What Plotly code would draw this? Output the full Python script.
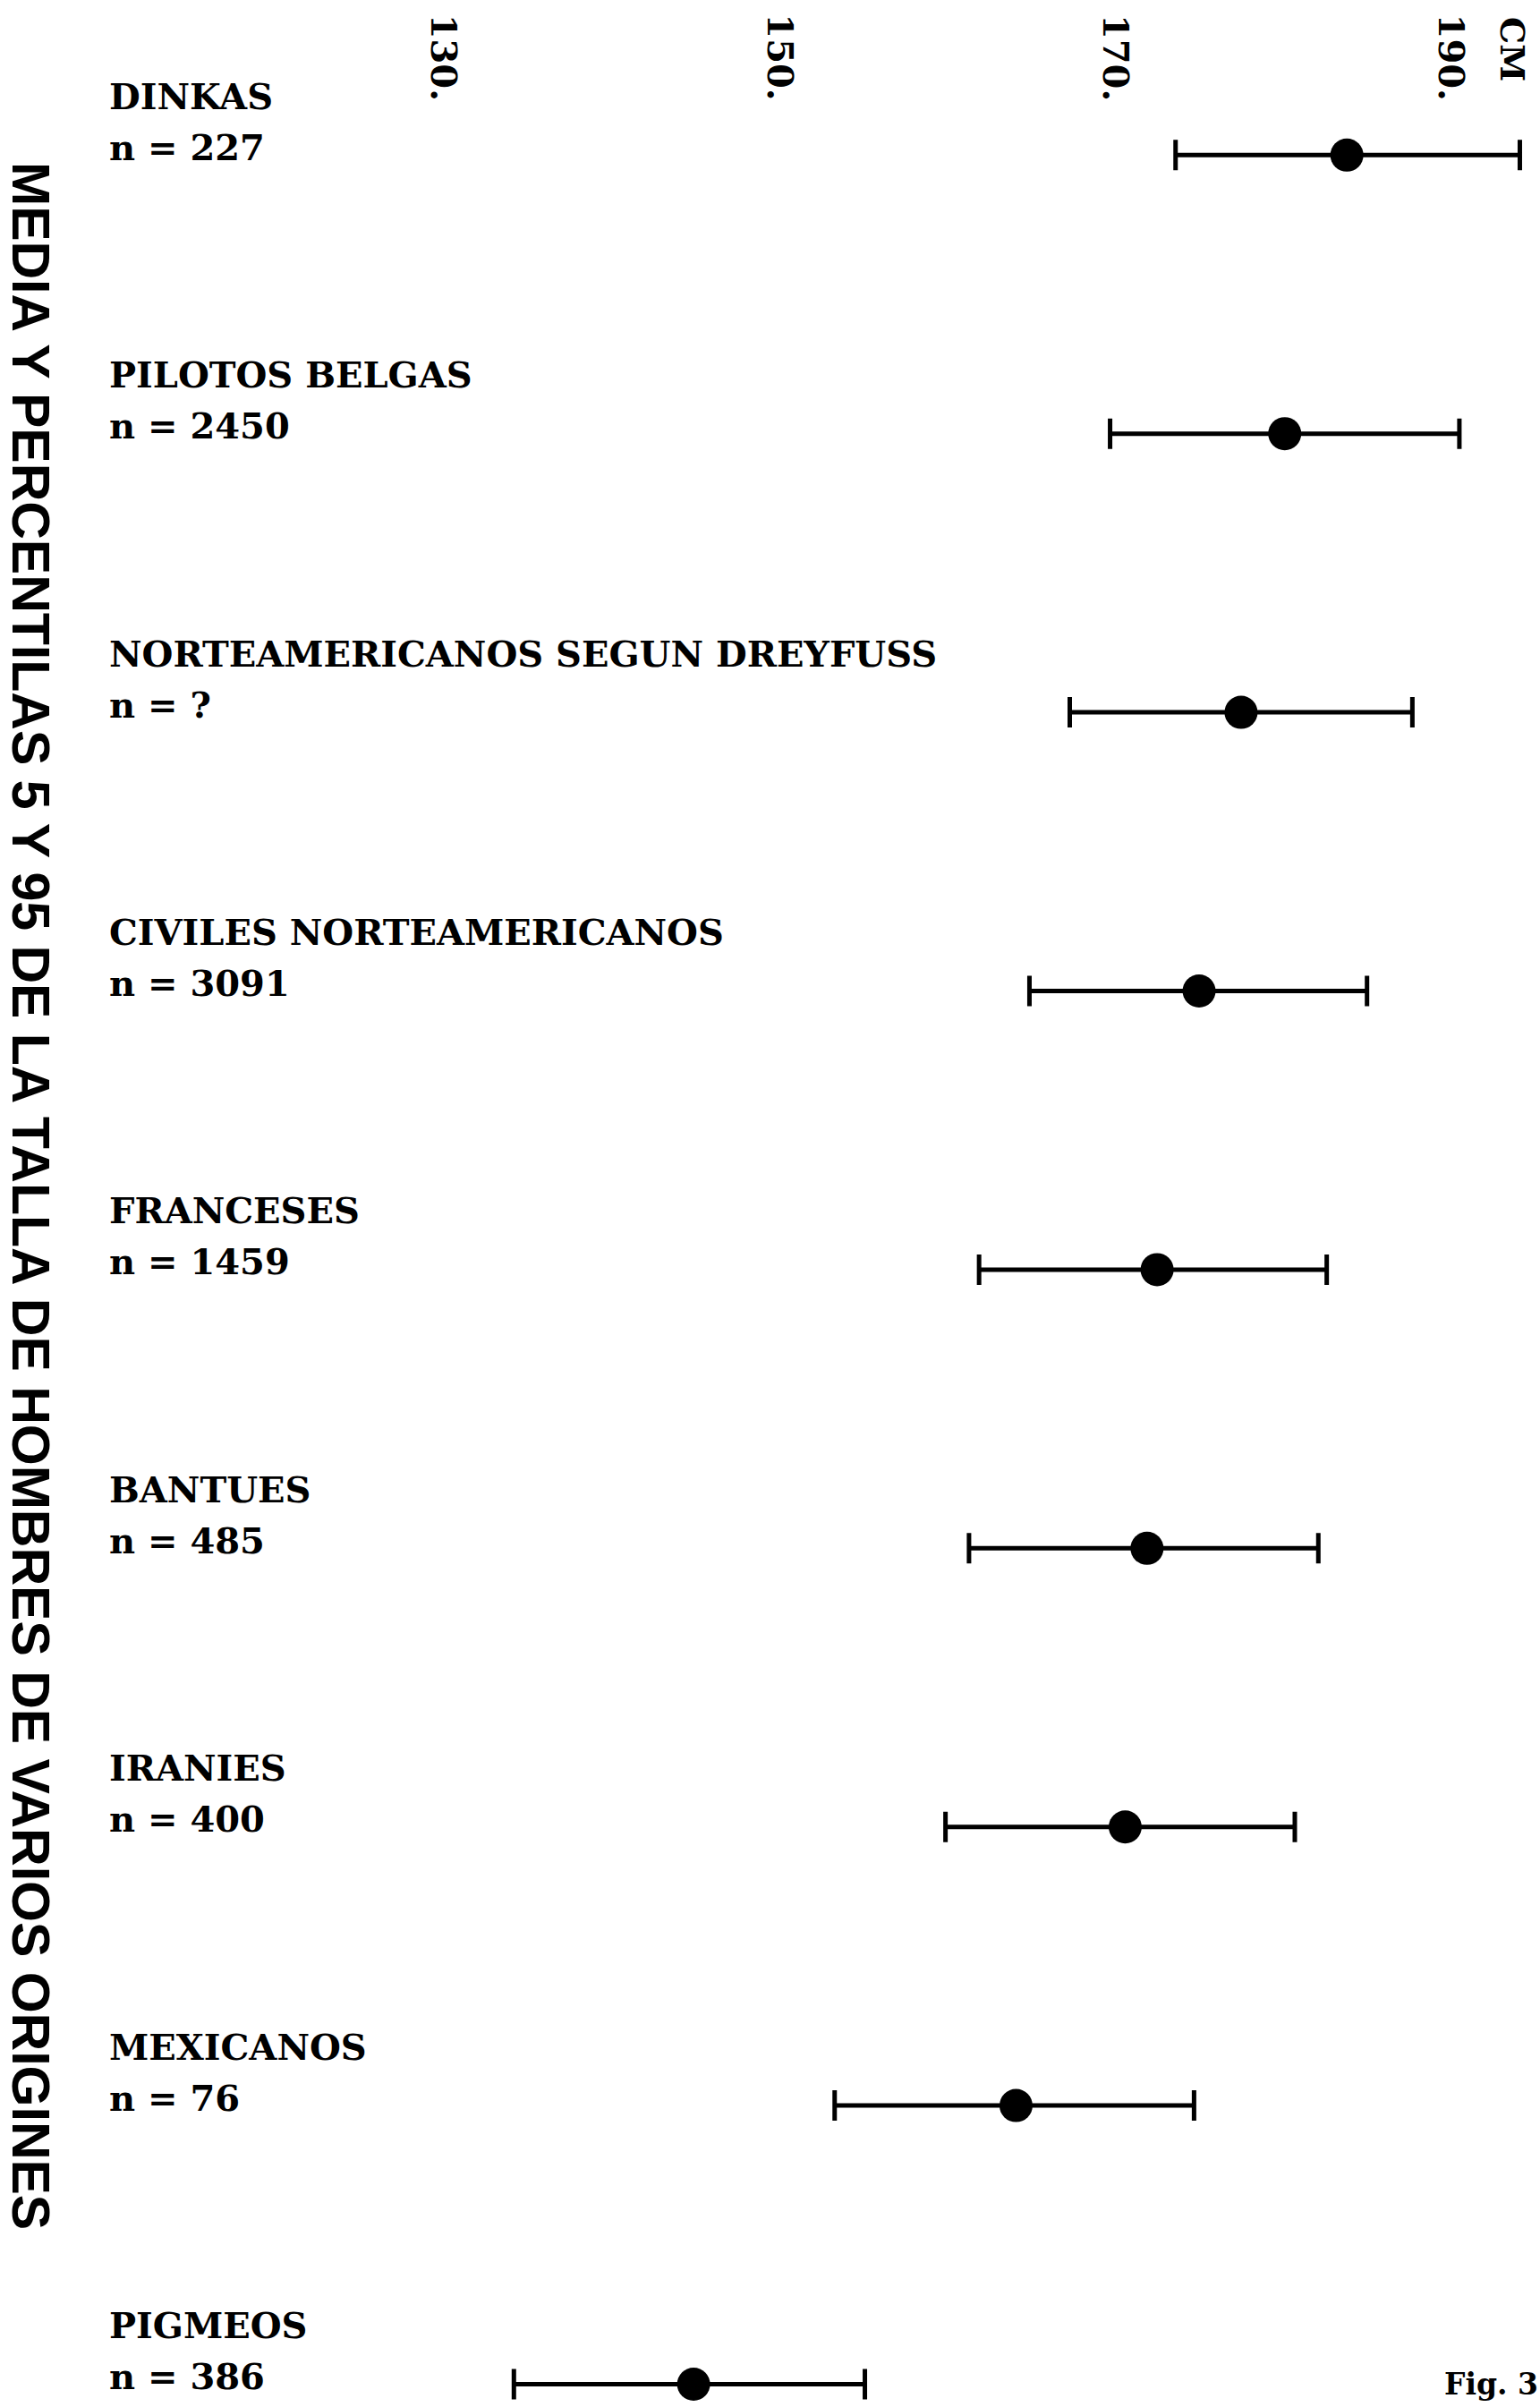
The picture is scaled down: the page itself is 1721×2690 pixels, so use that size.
import plotly.graph_objects as go

# ---- data ----
groups = ["DINKAS", "PILOTOS BELGAS", "NORTEAMERICANOS SEGUN DREYFUSS",
          "CIVILES NORTEAMERICANOS", "FRANCESES", "BANTUES", "IRANIES",
          "MEXICANOS", "PIGMEOS"]
n_values = ["227", "2450", "?", "3091", "1459", "485", "400", "76", "386"]
p5 = [173.5, 169.6, 167.2, 164.8, 161.8, 161.2, 159.8, 153.2, 134.1]
mean = [183.7, 180.0, 177.4, 174.9, 172.4, 171.8, 170.5, 164.0, 144.8]
p95 = [194.0, 190.4, 187.6, 184.9, 182.5, 182.0, 180.6, 174.6, 155.0]
tick_vals = [130, 150, 170, 190]
tick_text = ["130.", "150.", "170.", "190."]
unit_label = "CM"
title_text = "MEDIA Y PERCENTILAS 5 Y 95 DE LA TALLA DE HOMBRES DE VARIOS ORIGINES"
fig_label = "Fig. 3"

W, H = 1721, 2690
serif = "DejaVu Serif"
sans = "Liberation Sans"

err_plus = [b - m for b, m in zip(p95, mean)]
err_minus = [m - a for a, m in zip(p5, mean)]

fig = go.Figure()
fig.add_trace(go.Scatter(
    x=mean, y=groups, mode="markers",
    marker=dict(size=37, color="black", line=dict(width=0)),
    error_x=dict(type="data", symmetric=False, array=err_plus, arrayminus=err_minus,
                 color="black", thickness=5, width=17),
    showlegend=False, hoverinfo="skip",
))

annotations = []
# group labels (name line and sample-size line)
for g, n in zip(groups, n_values):
    annotations.append(dict(
        x=120 / W, xref="paper", y=g, yref="y", yshift=66,
        xanchor="left", yanchor="middle", align="left", showarrow=False,
        text=f"<b>{g}</b>",
        font=dict(family=serif, size=40, color="black"),
    ))
    annotations.append(dict(
        x=120 / W, xref="paper", y=g, yref="y", yshift=9,
        xanchor="left", yanchor="middle", align="left", showarrow=False,
        text=f"<b>n = {n}</b>",
        font=dict(family=serif, size=40, color="black"),
    ))
# rotated tick labels along the top
for v, t in zip(tick_vals, tick_text):
    annotations.append(dict(
        x=v, xref="x", y=1 - 64 / H, yref="paper", textangle=90,
        xanchor="center", yanchor="middle", showarrow=False,
        text=f"<b>{t}</b>", font=dict(family=serif, size=40, color="black"),
    ))
annotations.append(dict(
    x=1690 / W, xref="paper", y=1 - 17 / H, yref="paper", textangle=90,
    xanchor="center", yanchor="top", showarrow=False,
    text=f"<b>{unit_label}</b>", font=dict(family=serif, size=38, color="black"),
))
# vertical title
annotations.append(dict(
    x=34 / W, xref="paper", y=1 - 1336 / H, yref="paper", textangle=90,
    xanchor="center", yanchor="middle", showarrow=False,
    text=f"<b>{title_text}</b>", font=dict(family=sans, size=59, color="black"),
))
# figure label
annotations.append(dict(
    x=1.0, xref="paper", y=1 - 2664 / H, yref="paper",
    xanchor="right", yanchor="middle", showarrow=False,
    text=f"<b>{fig_label}</b>", font=dict(family=serif, size=33, color="black"),
))

fig.update_layout(
    width=W, height=H,
    margin=dict(l=0, r=0, t=0, b=0),
    paper_bgcolor="white", plot_bgcolor="white",
    xaxis=dict(range=[103.5, 195.2], visible=False, domain=[0, 1]),
    yaxis=dict(type="category", categoryorder="array", categoryarray=groups,
               range=[8.0818, -0.5565], visible=False, domain=[0, 1]),
    annotations=annotations,
)

fig.write_html("out.html", config={"displayModeBar": False},
               post_script="document.body.style.margin='0';")
